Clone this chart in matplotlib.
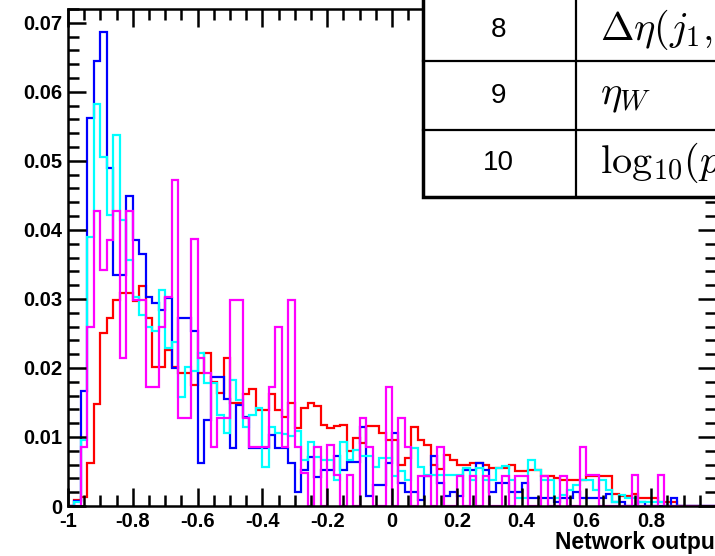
import numpy as np
import matplotlib
matplotlib.use('Agg')
import matplotlib.pyplot as plt
from matplotlib.ticker import FixedLocator, MultipleLocator

plt.rcParams['font.family'] = ['Liberation Sans', 'DejaVu Sans']
plt.rcParams['mathtext.fontset'] = 'cm'
plt.rcParams['axes.unicode_minus'] = False

# 100 bins of width 0.02 on [-1, 1]
edges = np.linspace(-1.0, 1.0, 101)

red = [0, 0.0008, 0.0013, 0.0062, 0.0148, 0.0251, 0.0272, 0.0298, 0.0309, 0.0309,
       0.0297, 0.0318, 0.0272, 0.0201, 0.0201, 0.0226, 0.0201, 0.0193, 0.0193, 0.0175,
       0.0193, 0.0222, 0.0180, 0.0164, 0.0214, 0.0149, 0.0149, 0.0162, 0.0169, 0.0139,
       0.0139, 0.0162, 0.0139, 0.0129, 0.0149, 0.0113, 0.0142, 0.0149, 0.0145, 0.0117,
       0.0113, 0.0116, 0.0118, 0.0079, 0.0098, 0.0091, 0.0116, 0.0116, 0.0106, 0.0096,
       0.0096, 0.0059, 0.0069, 0.0114, 0.0096, 0.0089, 0.0059, 0.0053, 0.0074, 0.0067,
       0.0059, 0.0059, 0.0063, 0.0063, 0.0060, 0.0055, 0.0055, 0.0055, 0.0060, 0.0050,
       0.0050, 0.0052, 0.0052, 0.0043, 0.0043, 0.0040, 0.0038, 0.0038, 0.0038, 0.0038,
       0.0043, 0.0043, 0.0043, 0.0043, 0.0018, 0.0014, 0.0014, 0.0018, 0.0011, 0.0011,
       0.0011, 0.0006, 0.0006, 0.0006, 0, 0, 0, 0, 0, 0]

blue = [0, 0.0007, 0.0166, 0.0562, 0.0644, 0.0686, 0.0490, 0.0335, 0.0335, 0.0449,
        0.0386, 0.0365, 0.0303, 0.0294, 0.0284, 0.0301, 0.0200, 0.0272, 0.0272, 0.0253,
        0.0062, 0.0125, 0.0187, 0.0187, 0.0155, 0.0084, 0.0146, 0.0129, 0.0084, 0.0084,
        0.0084, 0.0103, 0.0084, 0.0084, 0.0062, 0.0021, 0.0052, 0.0071, 0.0042, 0.0052,
        0.0052, 0.0072, 0.0052, 0.0064, 0.0064, 0.0115, 0.0014, 0.0030, 0.0030, 0.0062,
        0.0106, 0.0033, 0.0021, 0.0021, 0.0009, 0.0043, 0.0072, 0.0033, 0.0014, 0.0021,
        0.0014, 0.0052, 0.0052, 0.0063, 0.0052, 0.0021, 0.0033, 0.0033, 0.0021, 0.0021,
        0.0033, 0.0011, 0.0011, 0.0011, 0.0011, 0.0006, 0.0011, 0.0011, 0.0021, 0.0011,
        0.0011, 0.0011, 0.0011, 0.0018, 0.0006, 0.0006, 0, 0, 0.0006, 0,
        0, 0, 0, 0.0012, 0, 0, 0, 0, 0, 0]

cyan = [0, 0.0006, 0.0096, 0.0390, 0.0583, 0.0506, 0.0422, 0.0538, 0.0414, 0.0357,
        0.0303, 0.0277, 0.0260, 0.0254, 0.0313, 0.0229, 0.0238, 0.0158, 0.0202, 0.0195,
        0.0222, 0.0178, 0.0178, 0.0132, 0.0106, 0.0183, 0.0154, 0.0115, 0.0132, 0.0142,
        0.0057, 0.0115, 0.0106, 0.0104, 0.0102, 0.0108, 0.0067, 0.0093, 0.0071, 0.0067,
        0.0067, 0.0038, 0.0093, 0.0067, 0.0081, 0.0072, 0.0072, 0.0057, 0.0069, 0.0069,
        0.0043, 0.0050, 0.0038, 0.0084, 0.0057, 0.0045, 0.0045, 0.0045, 0.0045, 0.0045,
        0.0045, 0.0055, 0.0038, 0.0055, 0.0038, 0.0038, 0.0055, 0.0058, 0.0038, 0.0011,
        0.0011, 0.0067, 0.0052, 0.0038, 0.0038, 0.0011, 0.0016, 0.0023, 0.0030, 0.0038,
        0.0038, 0.0023, 0.0038, 0.0023, 0.0006, 0.0016, 0.0011, 0.0011, 0.0006, 0.0006,
        0.0006, 0.0006, 0, 0, 0, 0, 0, 0, 0, 0]

magenta = [0, 0, 0.0086, 0.0260, 0.0428, 0.0342, 0.0386, 0.0428, 0.0215, 0.0428,
           0.0298, 0.0298, 0.0173, 0.0173, 0.0260, 0.0303, 0.0472, 0.0128, 0.0128, 0.0387,
           0.0214, 0.0193, 0.0086, 0.0128, 0.0128, 0.0299, 0.0299, 0.0128, 0.0086, 0.0086,
           0.0086, 0.0173, 0.0260, 0.0086, 0.0299, 0.0086, 0.0048, 0, 0.0086, 0,
           0.0088, 0.0045, 0, 0.0045, 0, 0.0127, 0.0086, 0, 0, 0.0172,
           0, 0.0127, 0.0086, 0, 0.0043, 0.0043, 0, 0.0086, 0, 0,
           0.0043, 0, 0.0043, 0, 0.0043, 0, 0, 0.0043, 0, 0.0043,
           0.0043, 0, 0, 0.0043, 0, 0, 0.0043, 0, 0, 0.0086,
           0.0045, 0.0045, 0, 0, 0, 0, 0, 0.0045, 0, 0,
           0, 0.0045, 0, 0, 0, 0, 0, 0, 0, 0]

x_ticks = [-1, -0.8, -0.6, -0.4, -0.2, 0, 0.2, 0.4, 0.6, 0.8]
x_ticklabels = ['-1', '-0.8', '-0.6', '-0.4', '-0.2', '0', '0.2', '0.4', '0.6', '0.8']
y_ticks = [0, 0.01, 0.02, 0.03, 0.04, 0.05, 0.06, 0.07]
y_ticklabels = ['0', '0.01', '0.02', '0.03', '0.04', '0.05', '0.06', '0.07']

# table pasted in the top right corner (cut by the image edge)
table_rows = ['8', '9', '10']
table_vars = [r'$\Delta\eta(j_1, j_2)$', r'$\eta_W$', r'$\mathrm{log}_{10}(p_T)$']

W, H = 715, 556
fig = plt.figure(figsize=(W / 100, H / 100), dpi=100)
ax = fig.add_axes([68 / W, 50 / H, 648 / W, 497 / H])

lw = 1.6
ax.stairs(red, edges, color='#ff0000', lw=lw, baseline=0)
ax.stairs(blue, edges, color='#0000ff', lw=lw, baseline=0)
ax.stairs(cyan, edges, color='#00ffff', lw=lw, baseline=0)
ax.stairs(magenta, edges, color='#ff00ff', lw=lw, baseline=0)

ax.set_xlim(-1, 1)
ax.set_ylim(0, 0.072)
ax.xaxis.set_major_locator(FixedLocator(x_ticks))
ax.set_xticklabels(x_ticklabels)
ax.xaxis.set_minor_locator(MultipleLocator(0.05))
ax.yaxis.set_major_locator(FixedLocator(y_ticks))
ax.set_yticklabels(y_ticklabels)
ax.yaxis.set_minor_locator(MultipleLocator(0.002))
ax.tick_params(which='both', direction='in', top=True, right=True, width=1.8)
ax.tick_params(which='major', length=13, labelsize=14.5, pad=4)
ax.tick_params(which='minor', length=8)
for lab in ax.get_xticklabels() + ax.get_yticklabels():
    lab.set_fontweight('bold')
for s in ax.spines.values():
    s.set_linewidth(1.8)

fig.text(555 / W, 1 - 543 / H, 'Network output', fontsize=16.5, fontweight='bold',
         ha='left', va='center')

# overlay in pixel coordinates for the table
tab = fig.add_axes([0, 0, 1, 1])
tab.set_xlim(0, W)
tab.set_ylim(H, 0)
tab.axis('off')
tab.add_patch(plt.Rectangle((423, -5), 320, 202, facecolor='white',
                            edgecolor='black', lw=2.5))
tab.plot([423, W], [61, 61], color='black', lw=1.6)
tab.plot([423, W], [130, 130], color='black', lw=1.6)
tab.plot([576, 576], [0, 197], color='black', lw=1.6)
row_y = [30, 96, 163]
for r, v, yy in zip(table_rows, table_vars, row_y):
    tab.text(498, yy, r, fontsize=20, ha='center', va='center')
    tab.text(600, yy, v, fontsize=29, ha='left', va='center')

fig.savefig('out.png', dpi=100)
